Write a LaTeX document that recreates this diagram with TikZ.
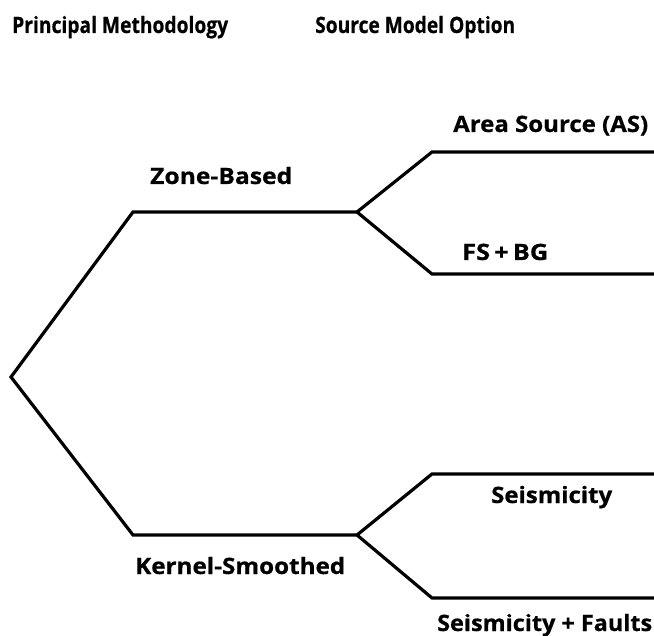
\documentclass[tikz,border=0pt]{standalone}
\usepackage{fontspec}
\usepackage{graphicx}
\setmainfont[BoldFeatures={FakeBold=0.6}]{Open Sans}
\newcommand{\fitw}[2]{\resizebox{#1}{\height}{#2}}
\begin{document}
\begin{tikzpicture}[x=1pt,y=-1pt,
  branch/.style={line width=3.2pt,line join=miter},
  lbl/.style={anchor=base west,inner sep=0pt,font=\bfseries\fontsize{22.5}{24}\selectfont}]
\useasboundingbox (0,0) rectangle (654,636);
\coordinate (root) at (11,377);
\coordinate (zc) at (133,212);
\coordinate (zs) at (357,212);
\coordinate (as0) at (432,152);
\coordinate (as1) at (654,152);
\coordinate (fs0) at (432,274);
\coordinate (fs1) at (654,274);
\coordinate (kc) at (133,535);
\coordinate (ks) at (357,535);
\coordinate (se0) at (432,474);
\coordinate (se1) at (654,474);
\coordinate (sf0) at (432,598);
\coordinate (sf1) at (654,598);
\draw[branch] (zs) -- (zc) -- (root) -- (kc) -- (ks);
\draw[branch] (as1) -- (as0) -- (zs) -- (fs0) -- (fs1);
\draw[branch] (se1) -- (se0) -- (ks) -- (sf0) -- (sf1);
\node[lbl] (h1) at (12,33) {\fitw{216pt}{Principal Methodology}};
\node[lbl] (h2) at (315,33) {\fitw{200pt}{Source Model Option}};
\node[lbl] (t1) at (150,184) {\fitw{142pt}{Zone-Based}};
\node[lbl] (t2) at (135,574) {\fitw{210pt}{Kernel-Smoothed}};
\node[lbl] (t3) at (453,132) {\fitw{195pt}{Area Source (AS)}};
\node[lbl] (t4) at (462,260) {\fitw{86pt}{FS\,+\,BG}};
\node[lbl] (t5) at (491,503) {\fitw{121pt}{Seismicity}};
\node[lbl] (t6) at (437,631) {\fitw{215pt}{Seismicity + Faults}};
\end{tikzpicture}
\end{document}
